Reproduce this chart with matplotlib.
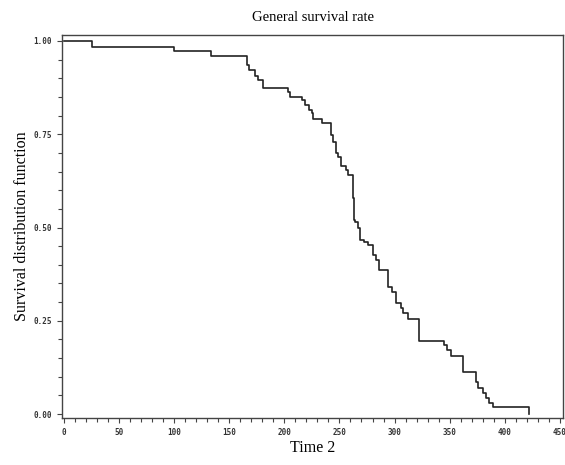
import matplotlib
matplotlib.use("Agg")
import matplotlib.pyplot as plt
from matplotlib.ticker import MultipleLocator

# Kaplan-Meier style survival estimate
times = [0, 25, 100, 133, 166, 167.5, 173.5, 176.5, 181, 203.5,
         205.5, 216, 219, 222, 225, 226, 234.5, 242, 244.5, 247,
         249, 251, 255.5, 258, 262, 263, 264.5, 267, 269, 272,
         276, 280, 283, 285.5, 294.5, 298, 301, 305.5, 308, 312,
         322, 344.5, 348, 351, 362, 373.5, 376, 380, 383, 385.5,
         389, 422]
surv = [1.0, 0.983, 0.973, 0.960, 0.936, 0.922, 0.906, 0.895, 0.874, 0.862,
        0.851, 0.842, 0.828, 0.815, 0.806, 0.790, 0.780, 0.748, 0.730, 0.700,
        0.690, 0.665, 0.654, 0.641, 0.580, 0.520, 0.515, 0.500, 0.466, 0.460,
        0.453, 0.426, 0.413, 0.386, 0.340, 0.327, 0.298, 0.284, 0.270, 0.255,
        0.196, 0.185, 0.172, 0.156, 0.113, 0.086, 0.070, 0.056, 0.043, 0.029,
        0.019, 0.0]
x_ticks = [0, 50, 100, 150, 200, 250, 300, 350, 400, 450]
x_labels = ["0", "50", "100", "150", "200", "250", "300", "350", "400", "450"]
y_ticks = [0.0, 0.25, 0.5, 0.75, 1.0]
y_labels = ["0.00", "0.25", "0.50", "0.75", "1.00"]

fig = plt.figure(figsize=(5.65, 4.65), dpi=100)
ax = fig.add_axes([0.1097, 0.101, 0.887, 0.8237])

ax.step(times, surv, where="post", color="#222222", linewidth=1.2)

ax.set_xlim(-1.8, 453)
ax.set_ylim(-0.0107, 1.016)

ax.set_xticks(x_ticks)
ax.set_xticklabels(x_labels)
ax.set_yticks(y_ticks)
ax.set_yticklabels(y_labels)
ax.xaxis.set_minor_locator(MultipleLocator(10))
ax.yaxis.set_minor_locator(MultipleLocator(0.05))

for lab in ax.get_xticklabels() + ax.get_yticklabels():
    lab.set_fontfamily("DejaVu Sans Mono")
    lab.set_fontsize(5.5)
    lab.set_fontweight("bold")
    lab.set_color("#333333")

ax.tick_params(which="both", direction="out", color="#444444", width=0.8)
ax.tick_params(which="major", length=3.5, pad=4)
ax.tick_params(which="minor", length=3)

for sp in ax.spines.values():
    sp.set_color("#444444")
    sp.set_linewidth(1.0)

ax.set_title("General survival rate", family="Liberation Serif", fontsize=10.5, pad=10)
ax.set_xlabel("Time 2", family="Liberation Serif", fontsize=11.5, labelpad=2)
ax.set_ylabel("Survival distribution function", family="Liberation Serif",
              fontsize=11.5, labelpad=2)

fig.savefig("out.png", dpi=100, facecolor="white")
